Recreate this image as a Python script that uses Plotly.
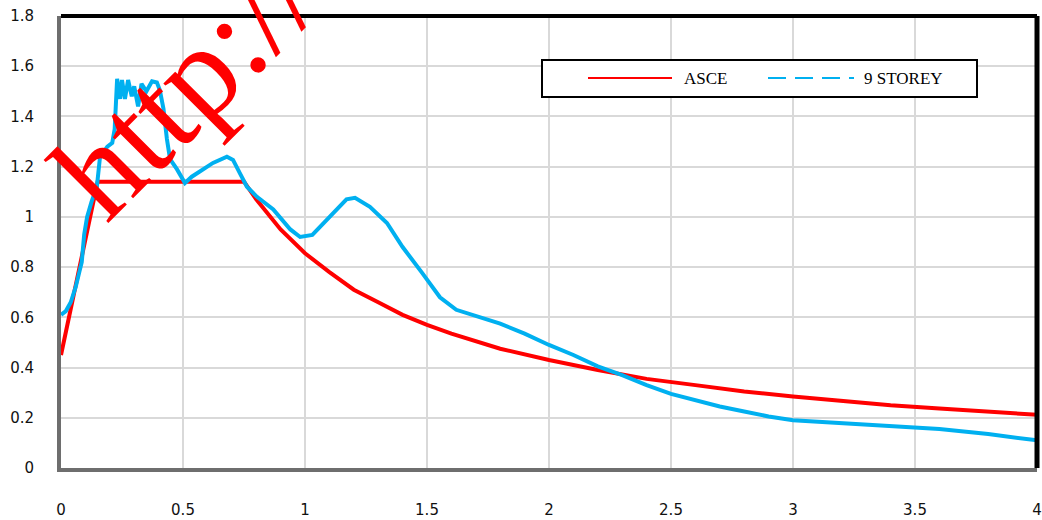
import plotly.graph_objects as go

# ASCE design spectrum
asce_T = [0, 0.15, 0.75, 0.8, 0.9, 1.0, 1.1, 1.2, 1.3, 1.4, 1.5, 1.6, 1.8, 2.0,
          2.2, 2.4, 2.6, 2.8, 3.0, 3.2, 3.4, 3.6, 3.8, 4.0]
asce_Sa = [0.45, 1.14, 1.14, 1.07, 0.95, 0.855, 0.78, 0.71, 0.66, 0.61, 0.57, 0.535,
           0.475, 0.43, 0.39, 0.355, 0.33, 0.305, 0.285, 0.267, 0.25, 0.237, 0.225, 0.212]

# 9 storey spectrum
st9_T = [0, 0.02, 0.04, 0.06, 0.075, 0.085, 0.095, 0.107, 0.125, 0.147, 0.16, 0.19,
         0.21, 0.22, 0.23, 0.242, 0.25, 0.262, 0.275, 0.29, 0.30, 0.316, 0.33, 0.35,
         0.373, 0.393, 0.405, 0.42, 0.434, 0.447, 0.475, 0.508, 0.536, 0.582, 0.623,
         0.68, 0.705, 0.735, 0.762, 0.803, 0.87, 0.94, 0.98, 1.03, 1.09, 1.17, 1.205,
         1.266, 1.336, 1.40, 1.48, 1.553, 1.62, 1.717, 1.8, 1.9, 2.0, 2.1, 2.2, 2.3,
         2.4, 2.5, 2.6, 2.7, 2.8, 2.9, 3.0, 3.2, 3.4, 3.6, 3.8, 4.0]
st9_Sa = [0.61, 0.625, 0.66, 0.72, 0.78, 0.82, 0.93, 1.00, 1.06, 1.12, 1.24, 1.28,
          1.295, 1.35, 1.55, 1.47, 1.545, 1.47, 1.545, 1.48, 1.52, 1.44, 1.53, 1.50,
          1.54, 1.535, 1.505, 1.43, 1.31, 1.23, 1.19, 1.135, 1.16, 1.19, 1.215,
          1.24, 1.227, 1.17, 1.12, 1.08, 1.03, 0.95, 0.92, 0.928, 0.99, 1.07, 1.076,
          1.04, 0.976, 0.88, 0.777, 0.68, 0.63, 0.60, 0.575, 0.535, 0.49, 0.45, 0.405, 0.37,
          0.33, 0.295, 0.27, 0.245, 0.225, 0.205, 0.19, 0.178, 0.165, 0.155, 0.135, 0.11]

x_ticks = [0, 0.5, 1, 1.5, 2, 2.5, 3, 3.5, 4]
x_labels = ["0", "0.5", "1", "1.5", "2", "2.5", "3", "3.5", "4"]
y_ticks = [0, 0.2, 0.4, 0.6, 0.8, 1.0, 1.2, 1.4, 1.6, 1.8]
y_labels = ["0", "0.2", "0.4", "0.6", "0.8", "1", "1.2", "1.4", "1.6", "1.8"]

series_names = ["ASCE", "9 STOREY"]

RED = "#ff0000"
BLUE = "#00b0f0"

fig = go.Figure()
fig.add_trace(go.Scatter(x=asce_T, y=asce_Sa, mode="lines", name=series_names[0],
                         line=dict(color=RED, width=4), showlegend=False))
fig.add_trace(go.Scatter(x=st9_T, y=st9_Sa, mode="lines", name=series_names[1],
                         line=dict(color=BLUE, width=4), showlegend=False))

L, R, T, B = 61, 5, 16, 52
W, H = 1042, 520
pw, ph = W - L - R, H - T - B


def px(xp):
    return (xp - L) / pw


def py(yp):
    return (H - B - yp) / ph


fig.update_layout(
    width=W, height=H,
    margin=dict(l=L, r=R, t=T, b=B, autoexpand=False),
    paper_bgcolor="white", plot_bgcolor="white",
    font=dict(family="DejaVu Sans", size=15, color="#111"),
    showlegend=False,
    xaxis=dict(range=[0, 4], tickvals=x_ticks, ticktext=x_labels,
               showgrid=True, gridcolor="#d9d9d9", gridwidth=2,
               showline=True, linecolor="#6e6e6e", linewidth=4,
               ticks="", ticklabelstandoff=25, zeroline=False,
               automargin=False, ticklabeloverflow="allow"),
    yaxis=dict(range=[0, 1.8], tickvals=y_ticks, ticktext=y_labels,
               showgrid=True, gridcolor="#d9d9d9", gridwidth=2,
               showline=True, linecolor="#6e6e6e", linewidth=4,
               ticks="", ticklabelstandoff=20, zeroline=False,
               automargin=False, ticklabeloverflow="allow"),
)

# top and right black frame
fig.add_shape(type="line", xref="paper", yref="paper", x0=0, x1=1, y0=1, y1=1,
              line=dict(color="black", width=4))
fig.add_shape(type="line", xref="paper", yref="paper", x0=1, x1=1, y0=0, y1=1,
              line=dict(color="black", width=5))

# legend box (drawn)
fig.add_shape(type="rect", xref="paper", yref="paper",
              x0=px(542), x1=px(977), y0=py(97), y1=py(60),
              fillcolor="white", line=dict(color="black", width=2), layer="above")
fig.add_shape(type="line", xref="paper", yref="paper",
              x0=px(588), x1=px(672), y0=py(78), y1=py(78),
              line=dict(color=RED, width=2), layer="above")
fig.add_shape(type="line", xref="paper", yref="paper",
              x0=px(768), x1=px(854), y0=py(78), y1=py(78),
              line=dict(color=BLUE, width=2, dash="18px,9px"), layer="above")
fig.add_annotation(text=series_names[0], xref="paper", yref="paper",
                   x=px(682), y=py(78), xanchor="left", yanchor="middle",
                   showarrow=False,
                   font=dict(family="Liberation Serif", size=17, color="black"))
fig.add_annotation(text=series_names[1], xref="paper", yref="paper",
                   x=px(862), y=py(78), xanchor="left", yanchor="middle",
                   showarrow=False,
                   font=dict(family="Liberation Serif", size=17, color="black"))

# watermark
fig.add_annotation(text="http://", xref="paper", yref="paper",
                   x=px(185), y=py(84), xanchor="center", yanchor="middle",
                   showarrow=False, textangle=-45,
                   font=dict(family="Liberation Serif", size=130, color=RED))

fig.write_html("out.html",
               config={"displayModeBar": False},
               post_script="document.body.style.margin='0';"
                           "document.body.style.overflow='hidden';")
